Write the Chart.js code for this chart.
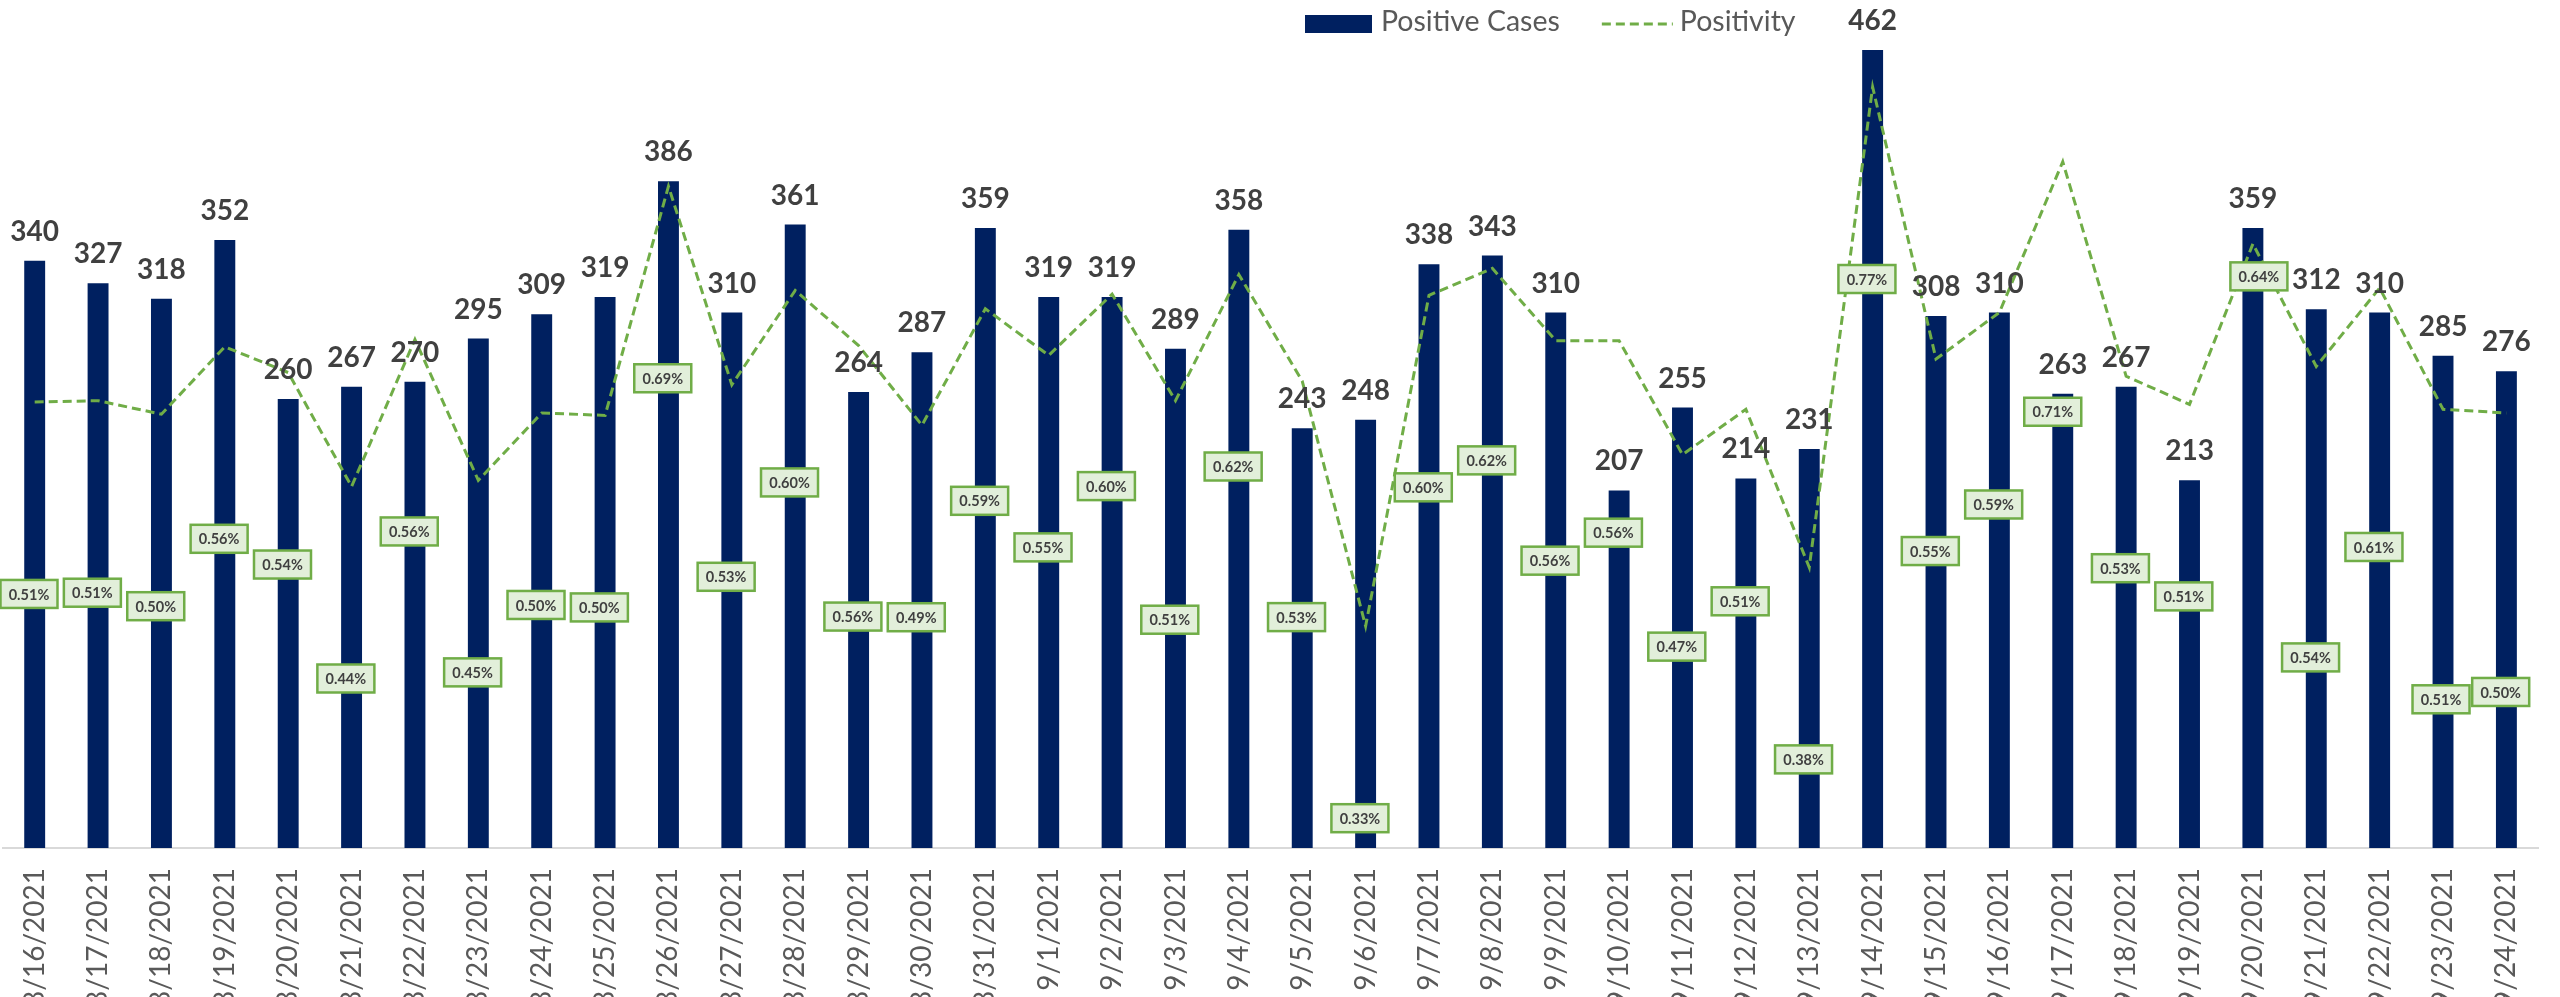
<!DOCTYPE html>
<html>
<head>
<meta charset="utf-8">
<script src="https://cdn.jsdelivr.net/npm/chart.js@4.4.1/dist/chart.umd.min.js"></script>
<style>
html,body{margin:0;padding:0;background:#fff;overflow:hidden}
#wrap{width:2560px;height:997px}
</style>
</head>
<body>
<div id="wrap"><canvas id="c" width="2560" height="997"></canvas></div>
<script>
const categories = ['8/16/2021','8/17/2021','8/18/2021','8/19/2021','8/20/2021','8/21/2021','8/22/2021','8/23/2021','8/24/2021','8/25/2021','8/26/2021','8/27/2021','8/28/2021','8/29/2021','8/30/2021','8/31/2021','9/1/2021','9/2/2021','9/3/2021','9/4/2021','9/5/2021','9/6/2021','9/7/2021','9/8/2021','9/9/2021','9/10/2021','9/11/2021','9/12/2021','9/13/2021','9/14/2021','9/15/2021','9/16/2021','9/17/2021','9/18/2021','9/19/2021','9/20/2021','9/21/2021','9/22/2021','9/23/2021','9/24/2021'];
const positiveCases = [340,327,318,352,260,267,270,295,309,319,386,310,361,264,287,359,319,319,289,358,243,248,338,343,310,207,255,214,231,462,308,310,263,267,213,359,312,310,285,276];
const positivity = [0.513,0.514,0.503,0.558,0.537,0.444,0.564,0.449,0.504,0.502,0.689,0.527,0.604,0.559,0.494,0.589,0.551,0.601,0.514,0.617,0.530,0.330,0.600,0.622,0.563,0.563,0.470,0.507,0.378,0.770,0.548,0.586,0.709,0.534,0.511,0.642,0.542,0.606,0.507,0.504];
const seriesNames = ['Positive Cases','Positivity'];

const labelPlugin = {
  id: 'valueLabels',
  afterDatasetsDraw(chart, args, o) {
    const ctx = chart.ctx;
    ctx.save();
    const barMeta = chart.getDatasetMeta(0);
    ctx.font = 'bold 28px Lato';
    ctx.fillStyle = '#404040';
    ctx.textAlign = 'center';
    ctx.textBaseline = 'alphabetic';
    barMeta.data.forEach((el, i) => {
      ctx.fillText(String(chart.data.datasets[0].data[i]), el.x, el.y - o.barGap);
    });
    const lineMeta = chart.getDatasetMeta(1);
    ctx.font = 'bold 14.5px Lato';
    ctx.textBaseline = 'middle';
    lineMeta.data.forEach((pt, i) => {
      const ov = o.overrides[i] || {};
      const dy = ov.dy !== undefined ? ov.dy : o.dy;
      const dx = ov.dx !== undefined ? ov.dx : o.dx;
      const cx = pt.x + dx, cy = pt.y + dy;
      const w = o.boxW, h = o.boxH;
      ctx.fillStyle = '#E2EFDA';
      ctx.fillRect(cx - w/2, cy - h/2, w, h);
      ctx.strokeStyle = '#70AD47';
      ctx.lineWidth = 2.5;
      ctx.strokeRect(cx - w/2, cy - h/2, w, h);
      ctx.fillStyle = '#404040';
      ctx.fillText(chart.data.datasets[1].data[i].toFixed(2) + '%', cx, cy + 1);
    });
    ctx.restore();
  }
};

const legendPlugin = {
  id: 'topLegend',
  afterDraw(chart, args, o) {
    const ctx = chart.ctx;
    const ds = chart.data.datasets;
    ctx.save();
    ctx.font = '28.5px Lato';
    ctx.textBaseline = 'alphabetic';
    ctx.textAlign = 'left';
    let x = o.x;
    ctx.fillStyle = ds[0].backgroundColor;
    ctx.fillRect(x, o.top, o.swatchW, o.swatchH);
    x += o.swatchW + o.textGap;
    ctx.fillStyle = '#595959';
    ctx.fillText(ds[0].label, x, o.baseline);
    x += ctx.measureText(ds[0].label).width + o.itemGap;
    ctx.strokeStyle = ds[1].borderColor;
    ctx.lineWidth = ds[1].borderWidth;
    ctx.setLineDash(ds[1].borderDash);
    ctx.beginPath();
    ctx.moveTo(x, o.top + o.swatchH/2);
    ctx.lineTo(x + o.lineW, o.top + o.swatchH/2);
    ctx.stroke();
    ctx.setLineDash([]);
    x += o.lineW + o.lineTextGap;
    ctx.fillStyle = '#595959';
    ctx.fillText(ds[1].label, x, o.baseline);
    ctx.restore();
  }
};

new Chart(document.getElementById('c'), {
  data: {
    labels: categories,
    datasets: [
      {
        type: 'bar',
        label: seriesNames[0],
        data: positiveCases,
        backgroundColor: '#002060',
        borderWidth: 0,
        barPercentage: 0.33,
        categoryPercentage: 1.0,
        yAxisID: 'y',
        order: 2
      },
      {
        type: 'line',
        label: seriesNames[1],
        data: positivity,
        borderColor: '#70AD47',
        borderWidth: 3,
        borderDash: [9, 5],
        pointRadius: 0,
        tension: 0,
        fill: false,
        yAxisID: 'y2',
        order: 1
      }
    ]
  },
  options: {
    responsive: false,
    devicePixelRatio: 1,
    animation: false,
    layout: { padding: { left: 3, right: 0, top: 0, bottom: 0 } },
    plugins: {
      legend: { display: false },
      tooltip: { enabled: false },
      valueLabels: {
        barGap: 20, dy: 192, dx: -5.7, boxW: 57, boxH: 28,
        overrides: {
          13: { dy: 271 },
          18: { dy: 219 },
          20: { dy: 236 },
          24: { dy: 220 },
          32: { dy: 250, dx: -10 },
          35: { dy: 32.5, dx: 6 },
          36: { dy: 291 },
          37: { dy: 259 },
          38: { dy: 290, dx: -2 },
          39: { dy: 279 }
        }
      },
      topLegend: { x: 1305, top: 15, swatchW: 67, swatchH: 18, textGap: 9, itemGap: 42, lineW: 71, lineTextGap: 7, baseline: 31 }
    },
    scales: {
      x: {
        offset: true,
        grid: { display: false, drawTicks: false },
        border: { display: true, color: '#D9D9D9', width: 2 },
        ticks: { autoSkip: false, minRotation: 90, maxRotation: 90, padding: 20, color: '#595959', font: { family: 'Lato', size: 28 } },
        afterFit(s) { s.height = 149; }
      },
      y: { display: false, min: 0, max: 491 },
      y2: { display: false, position: 'right', min: 0.149, max: 0.841 }
    }
  },
  plugins: [labelPlugin, legendPlugin]
});
</script>
</body>
</html>
